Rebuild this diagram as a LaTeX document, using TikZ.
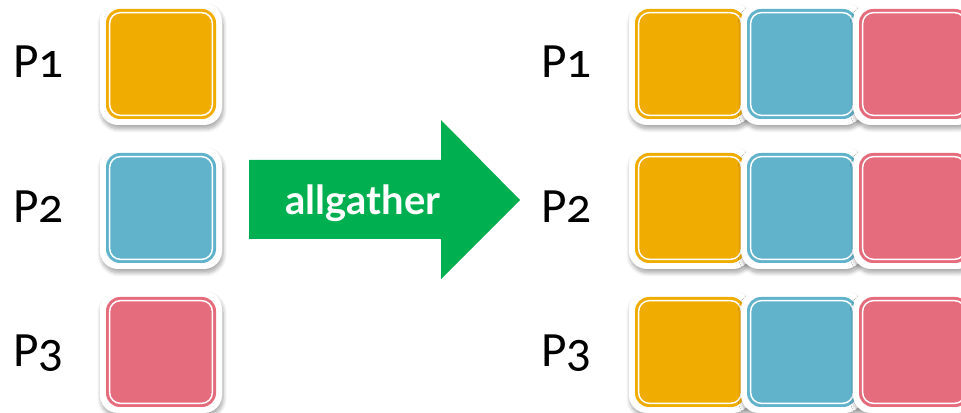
\documentclass[tikz,border=0pt]{standalone}
\usepackage{fontspec}
\setmainfont{Carlito}
\newfontfamily\labelfont[Numbers=OldStyle]{Carlito}
\newfontfamily\arrowfont{Lato}
\usetikzlibrary{shadows.blur}
\definecolor{cyellow}{RGB}{240,172,0}
\definecolor{cblue}{RGB}{97,179,204}
\definecolor{cpink}{RGB}{229,108,125}
\definecolor{agreen}{RGB}{0,176,80}
\tikzset{
  frame/.style={rectangle, rounded corners=13.5pt, minimum size=91.5pt, inner sep=0pt,
    fill=white, draw=none,
    blur shadow={shadow xshift=0.8pt, shadow yshift=-2.8pt, shadow blur radius=3pt,
      shadow blur steps=8, shadow opacity=35}},
  tile/.style={rectangle, rounded corners=10.5pt, minimum size=82.5pt, inner sep=0pt,
    fill=#1, draw=none},
  gap/.style={rectangle, rounded corners=8pt, minimum size=77pt, inner sep=0pt,
    draw=white, line width=1.1pt},
  plabel/.style={font=\labelfont\fontsize{37}{40}\selectfont, inner sep=0pt, anchor=base west},
  arrowtext/.style={font=\arrowfont\bfseries\fontsize{30}{34}\selectfont, text=white,
    inner sep=0pt, anchor=base}
}
\newcommand{\datatile}[3]{%
  \node[frame] (#1f) at (#2) {};
  \node[tile=#3] (#1) at (#1f) {};
  \node[gap] (#1g) at (#1) {};
}
\begin{document}
\begin{tikzpicture}[x=0.75pt, y=-0.75pt]
  \useasboundingbox (0,0) rectangle (961,413);

  % processes before the collective
  \node[plabel] (l1) at (13,78) {P1};
  \node[plabel] (l2) at (13,223) {P2};
  \node[plabel] (l3) at (13,367) {P3};
  \datatile{a1}{161,64}{cyellow}
  \datatile{a2}{161,208}{cblue}
  \datatile{a3}{161,352}{cpink}

  % the collective operation
  \fill[agreen] (249,160) -- (441,160) -- (441,120) -- (520,200)
    -- (441,279) -- (441,239) -- (249,239) -- cycle;
  \node[arrowtext] (op) at (363,215) {allgather};

  % processes after the collective
  \node[plabel] (r1) at (541,78) {P1};
  \node[plabel] (r2) at (541,223) {P2};
  \node[plabel] (r3) at (541,367) {P3};
  \foreach \row/\y in {1/64, 2/208, 3/352} {
    \datatile{b\row y}{690,\y}{cyellow}
    \datatile{b\row b}{802,\y}{cblue}
    \datatile{b\row p}{914,\y}{cpink}
  }
\end{tikzpicture}
\end{document}
